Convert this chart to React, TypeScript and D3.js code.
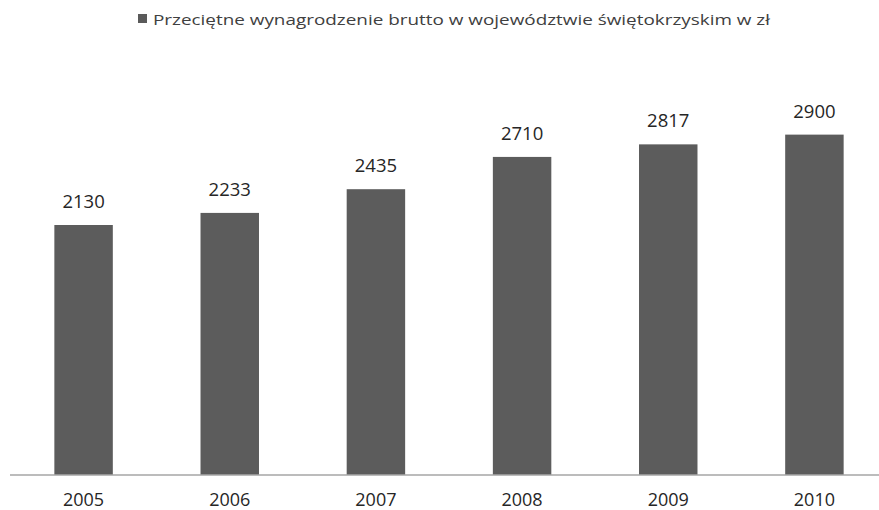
import React from "react";
import * as d3 from "d3";

const categories = ["2005", "2006", "2007", "2008", "2009", "2010"];
const values = [2130, 2233, 2435, 2710, 2817, 2900];
const seriesName = "Przeciętne wynagrodzenie brutto w województwie świętokrzyskim w zł";

const W = 879;
const H = 510;

export default function App() {
  const x = d3.scaleBand<string>().domain(categories).range([10.5, 887.5]).paddingInner(0.6).paddingOuter(0.3);
  const y = d3.scaleLinear().domain([0, 3500]).range([475, 64.2]);
  const font = "'Open Sans', sans-serif";
  return (
    <svg width={W} height={H} style={{ position: "absolute", left: 0, top: 0, background: "#fff" }}>
      <rect x={138} y={14} width={9} height={9} fill="#5a5a5a" />
      <text x={153} y={25} fontFamily={font} fontSize={15} fill="#404040" textLength={617} lengthAdjust="spacingAndGlyphs">
        {seriesName}
      </text>
      {categories.map((c, i) => (
        <g key={c}>
          <rect x={x(c)} y={y(values[i])} width={x.bandwidth()} height={y(0) - y(values[i])} fill="#5c5c5c" />
          <text x={(x(c) as number) + x.bandwidth() / 2} y={y(values[i]) - 17} textAnchor="middle" fontFamily={font} fontSize={18.5} fill="#262626">
            {values[i]}
          </text>
          <text x={(x(c) as number) + x.bandwidth() / 2} y={506} textAnchor="middle" fontFamily={font} fontSize={18} fill="#262626">
            {c}
          </text>
        </g>
      ))}
      <line x1={10} x2={879} y1={y(0)} y2={y(0)} stroke="#a6a6a6" strokeWidth={1.5} />
    </svg>
  );
}
